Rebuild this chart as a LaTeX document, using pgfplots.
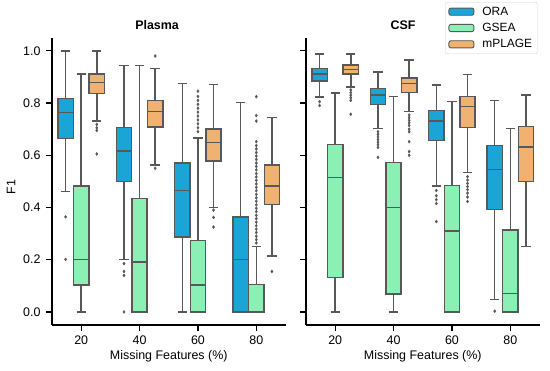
\documentclass[border=0pt]{standalone}
\usepackage{fontspec}
\setmainfont{Liberation Sans}
\usepackage{pgfplots}
\pgfplotsset{compat=1.18}
\usepgfplotslibrary{statistics}
\definecolor{ora}{RGB}{27,164,214}
\definecolor{gsea}{RGB}{138,240,180}
\definecolor{mplage}{RGB}{240,178,112}
\definecolor{edge}{RGB}{88,88,88}
\newcommand{\fs}{\fontsize{12.5}{14}\selectfont}
\newcommand{\fl}{\fontsize{12}{14}\selectfont}
% \bx{position}{colour}{lower whisker}{lower quartile}{median}{upper quartile}{upper whisker}{outliers}
\newcommand{\bx}[8]{%
\addplot[forget plot, draw=edge, fill=#2, line width=1.5pt,
  mark=diamond*, mark size=1.5pt, mark options={draw=edge, fill=edge, line width=0.4pt},
  boxplot prepared={draw position=#1, lower whisker=#3, lower quartile=#4,
    median=#5, upper quartile=#6, upper whisker=#7,
    box extend=0.262, whisker extend=0.16}] coordinates {#8};}
\pgfplotsset{
  common/.style={
    scale only axis, width=233.5bp, height=287.3bp,
    xmin=-0.5, xmax=3.5, ymin=-0.05, ymax=1.05,
    axis x line*=bottom, axis y line*=left,
    axis line style={line width=1.2pt, black, -},
    xtick={0,1,2,3}, xticklabels={20,40,60,80},
    ytick={0,0.2,0.4,0.6,0.8,1},
    tick align=outside, major tick length=6bp,
    every tick/.style={line width=1.2pt, black},
    /pgf/number format/assume math mode=true,
    yticklabel style={/pgf/number format/fixed, /pgf/number format/fixed zerofill, /pgf/number format/precision=1, xshift=-2bp},
    xticklabel style={yshift=-1bp},
    tick label style={font=\fs},
    xlabel={Missing Features (\%)},
    xlabel style={font=\fs, at={(axis description cs:0.5,-0.108)}, anchor=center},
    title style={font=\fs\bfseries, anchor=center},
    boxplot/draw direction=y,
    boxplot/every median/.style={draw=edge, line width=1.5pt},
    boxplot/every whisker/.style={draw=edge, line width=1.5pt},
    clip=false,
  }
}
\begin{document}
\begin{tikzpicture}
\useasboundingbox (0,0) rectangle (550bp,371bp);
% ---------------- Plasma ----------------
\begin{axis}[common, at={(52bp,46bp)}, anchor=south west,
  title={Plasma}, title style={at={(axis description cs:0.45,1.022)}},
  ylabel={F1}, ylabel style={font=\fs, at={(axis description cs:-0.175,0.48)}, anchor=center}]
% 20
\bx{-0.267}{ora}{0.462}{0.665}{0.764}{0.818}{1.0}{(0,0.364) (0,0.201)}
\bx{0}{gsea}{0}{0.104}{0.200}{0.483}{0.911}{}
\bx{0.267}{mplage}{0.732}{0.836}{0.878}{0.911}{1.0}{(0,0.718) (0,0.705) (0,0.695) (0,0.605)}
% 40
\bx{0.733}{ora}{0.2}{0.499}{0.617}{0.707}{0.943}{(0,0.185) (0,0.155) (0,0.14) (0,0)}
\bx{1}{gsea}{0}{0}{0.191}{0.434}{0.943}{}
\bx{1.267}{mplage}{0.563}{0.708}{0.767}{0.81}{0.932}{(0,0.98) (0,0.55)}
% 60
\bx{1.733}{ora}{0}{0.287}{0.464}{0.571}{0.875}{}
\bx{2}{gsea}{0}{0}{0.104}{0.274}{0.666}{(0,0.69) (0,0.705) (0,0.72) (0,0.735) (0,0.75) (0,0.765) (0,0.78) (0,0.795) (0,0.81) (0,0.825) (0,0.845)}
\bx{2.267}{mplage}{0.40}{0.577}{0.648}{0.70}{0.87}{(0,0.39) (0,0.362) (0,0.325)}
% 80
\bx{2.733}{ora}{0}{0}{0.201}{0.364}{0.801}{}
\bx{3}{gsea}{0}{0}{0}{0.106}{0.251}{(0,0.264) (0,0.277) (0,0.290) (0,0.304) (0,0.317) (0,0.330) (0,0.344) (0,0.357) (0,0.370) (0,0.384) (0,0.397) (0,0.410) (0,0.424) (0,0.437) (0,0.450) (0,0.464) (0,0.477) (0,0.490) (0,0.504) (0,0.517) (0,0.530) (0,0.544) (0,0.557) (0,0.570) (0,0.584) (0,0.597) (0,0.610) (0,0.624) (0,0.637) (0,0.652) (0,0.731) (0,0.752) (0,0.824)}
\bx{3.267}{mplage}{0.215}{0.411}{0.483}{0.562}{0.744}{(0,0.155)}
\end{axis}
% ---------------- CSF ----------------
\begin{axis}[common, at={(306bp,46bp)}, anchor=south west,
  yticklabels={},
  title={CSF}, title style={at={(axis description cs:0.416,1.022)}},
  legend image code/.code={\draw[#1, line width=0.9pt] (0bp,-3.6bp) rectangle (25bp,3.6bp);},
  legend style={at={(axis description cs:0.991,1.124)}, anchor=north east,
    draw=black!18, rounded corners=2bp, font=\fl, inner xsep=3bp, inner ysep=2.5bp,
    row sep=2.5bp, /tikz/every odd column/.append style={column sep=6bp}},
  legend cell align=left]
\addlegendimage{fill=ora, draw=edge}
\addlegendentry{ORA}
\addlegendimage{fill=gsea, draw=edge}
\addlegendentry{GSEA}
\addlegendimage{fill=mplage, draw=edge}
\addlegendentry{mPLAGE}
% 20
\bx{-0.267}{ora}{0.822}{0.884}{0.911}{0.932}{0.987}{(0,0.805) (0,0.79)}
\bx{0}{gsea}{0}{0.132}{0.515}{0.641}{0.839}{}
\bx{0.267}{mplage}{0.862}{0.911}{0.929}{0.946}{0.987}{(0,0.85) (0,0.84) (0,0.83) (0,0.82) (0,0.81) (0,0.757)}
% 40
\bx{0.733}{ora}{0.703}{0.794}{0.831}{0.856}{0.918}{(0,0.69) (0,0.68) (0,0.67) (0,0.66) (0,0.65) (0,0.64) (0,0.63) (0,0.592)}
\bx{1}{gsea}{0}{0.069}{0.40}{0.572}{0.824}{}
\bx{1.267}{mplage}{0.767}{0.841}{0.875}{0.896}{0.964}{(0,0.754) (0,0.744) (0,0.734) (0,0.724) (0,0.714) (0,0.70) (0,0.69) (0,0.652) (0,0.614) (0,0.60)}
% 60
\bx{1.733}{ora}{0.483}{0.657}{0.732}{0.772}{0.869}{(0,0.465) (0,0.445) (0,0.43) (0,0.415) (0,0.346)}
\bx{2}{gsea}{0}{0}{0.31}{0.485}{0.806}{}
\bx{2.267}{mplage}{0.534}{0.706}{0.786}{0.824}{0.91}{(0,0.518) (0,0.505) (0,0.492) (0,0.48) (0,0.468) (0,0.455) (0,0.44) (0,0.423)}
% 80
\bx{2.733}{ora}{0.048}{0.392}{0.546}{0.638}{0.809}{(0,0.003)}
\bx{3}{gsea}{0}{0}{0.07}{0.313}{0.703}{}
\bx{3.267}{mplage}{0.251}{0.499}{0.631}{0.71}{0.831}{}
\end{axis}
\end{tikzpicture}
\end{document}
